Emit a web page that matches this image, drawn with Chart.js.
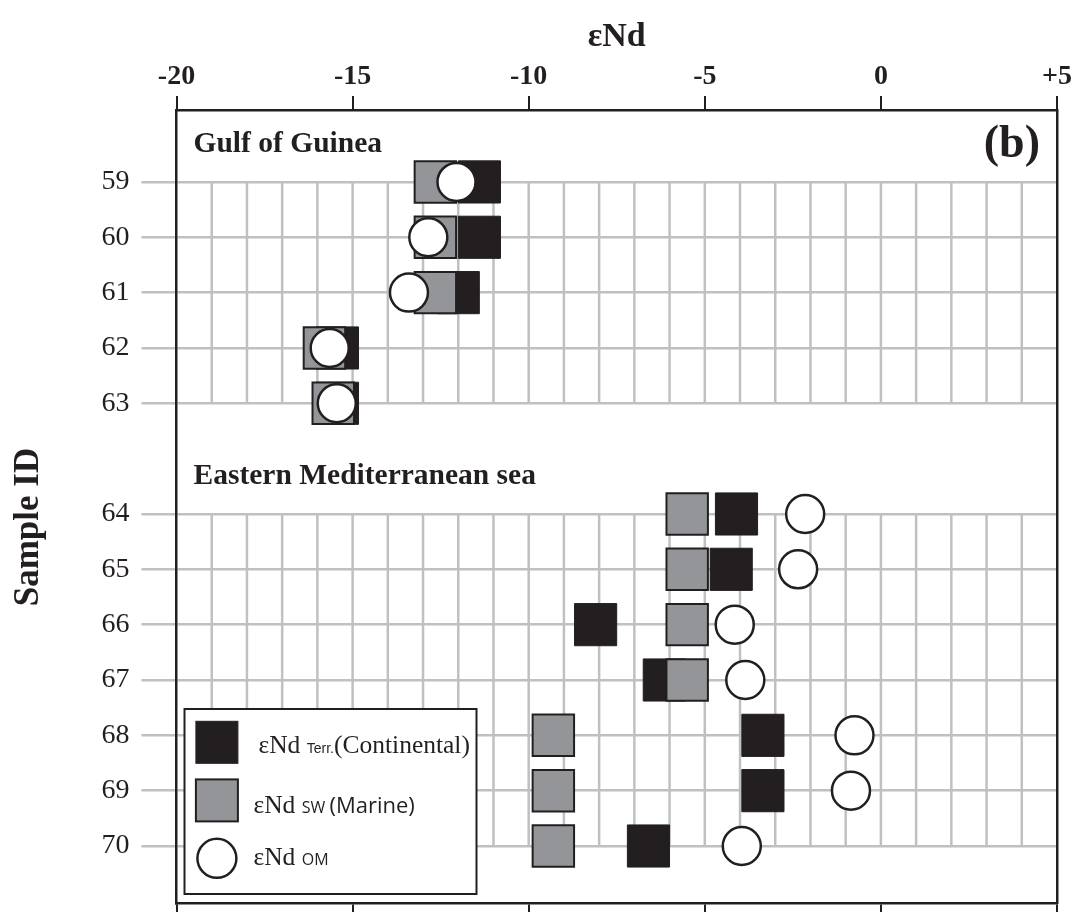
<!DOCTYPE html>
<html>
<head>
<meta charset="utf-8">
<title>εNd by sample</title>
<script src="https://cdn.jsdelivr.net/npm/chart.js@4.4.1/dist/chart.umd.min.js"></script>
<style>
  html, body { margin: 0; padding: 0; background: #ffffff; }
  #wrap { width: 1080px; height: 912px; position: relative; }
</style>
</head>
<body>
<div id="wrap"><canvas id="chart"></canvas></div>
<script>
// Samples, split into the two sampling regions
const gulfIds = ['59', '60', '61', '62', '63'];
const medIds  = ['64', '65', '66', '67', '68', '69', '70'];
const sampleIds = gulfIds.concat(medIds);
const groupTitles = ['Gulf of Guinea', 'Eastern Mediterranean sea'];

// εNd values per sample (same order as sampleIds)
const eNdTerr = [-11.4, -11.4, -12.0, -15.43, -15.43, -4.1, -4.25, -8.1, -6.15, -3.35, -3.35, -6.6];
const eNdSW   = [-12.65, -12.65, -12.65, -15.8, -15.55, -5.5, -5.5, -5.5, -5.5, -9.3, -9.3, -9.3];
const eNdOM   = [-12.05, -12.85, -13.4, -15.65, -15.45, -2.15, -2.35, -4.15, -3.85, -0.75, -0.85, -3.95];

// Axis ticks
const xTickValues = [-20, -15, -10, -5, 0, 5];
const xTickLabels = ['-20', '-15', '-10', '-5', '0', '+5'];
const xTitle = 'εNd';
const yTitle = 'Sample ID';
const panelLabel = '(b)';

// Legend entries: text runs with their own fonts
const legendRows = [
  { marker: 'black',  runs: [['εNd ', 'serif'], ['Terr.', 'subNarrow'], ['(Continental)', 'serif']] },
  { marker: 'grey',   runs: [['εNd ', 'serif'], ['SW ', 'sub'], ['(Marine)', 'sans']] },
  { marker: 'circle', runs: [['εNd ', 'serif'], ['OM', 'sub']] }
];

const INK = '#231f20';
const GREY_FILL = '#939598';
const GRID = '#bfc0c2';
const SERIF = '"Liberation Serif", "Times New Roman", serif';
const FONTS = {
  serif: '25.5px ' + SERIF,
  subNarrow: '14px "Liberation Sans Narrow", "Liberation Sans", sans-serif',
  sub: '16px "Open Sans", "Liberation Sans", sans-serif',
  sans: '22px "Open Sans", "Liberation Sans", sans-serif'
};

// Row index on the y scale: one empty row separates the two regions
const rowOf = i => (i < gulfIds.length ? i : i + 1);
const toPoints = vals => vals.map((v, i) => ({ x: v, y: rowOf(i) }));
const xTicksFrom = scale => { scale.ticks = xTickValues.map(v => ({ value: v })); };
// fixed axis sizes, without extra room for overhanging labels
const fixSize = (w, h) => s => {
  if (w !== null) s.width = w;
  if (h !== null) s.height = h;
  s.paddingTop = 0; s.paddingBottom = 0; s.paddingLeft = 0; s.paddingRight = 0;
};

const panelDecor = {
  id: 'panelDecor',
  beforeDatasetsDraw(chart) {
    // light vertical grid, one unit apart, spanning each region's rows only
    const { ctx } = chart;
    const xs = chart.scales.x, ys = chart.scales.y;
    const groups = [[0, gulfIds.length - 1], [gulfIds.length, sampleIds.length - 1]];
    ctx.save();
    ctx.strokeStyle = GRID;
    ctx.lineWidth = 2.5;
    for (const [a, b] of groups) {
      const y1 = ys.getPixelForValue(rowOf(a));
      const y2 = ys.getPixelForValue(rowOf(b));
      for (let v = xs.min + 1; v < xs.max; v++) {
        const px = xs.getPixelForValue(v);
        ctx.beginPath();
        ctx.moveTo(px, y1);
        ctx.lineTo(px, y2);
        ctx.stroke();
      }
    }
    ctx.restore();
  },
  afterDatasetsDraw(chart) {
    const { ctx, chartArea } = chart;
    const ys = chart.scales.y;
    ctx.save();
    ctx.fillStyle = INK;
    ctx.textBaseline = 'alphabetic';

    // region titles
    ctx.font = 'bold 29.5px ' + SERIF;
    ctx.textAlign = 'left';
    const firstRows = [0, gulfIds.length];
    groupTitles.forEach((t, k) => {
      ctx.fillText(t, chartArea.left + 17, ys.getPixelForValue(rowOf(firstRows[k])) - 29.5);
    });

    // panel letter
    ctx.font = 'bold 46px ' + SERIF;
    ctx.textAlign = 'right';
    ctx.fillText(panelLabel, chartArea.right - 17, chartArea.top + 47);

    // y axis title
    ctx.save();
    ctx.translate(29, 527);
    ctx.rotate(-Math.PI / 2);
    ctx.font = 'bold 35px ' + SERIF;
    ctx.textAlign = 'center';
    ctx.textBaseline = 'middle';
    ctx.fillText(yTitle, 0, 0);
    ctx.restore();

    // legend box
    const bx = chartArea.left + 8, bw = 292, bh = 185;
    const by = chartArea.bottom - 9 - bh;
    ctx.fillStyle = '#ffffff';
    ctx.fillRect(bx, by, bw, bh);
    ctx.strokeStyle = INK;
    ctx.lineWidth = 2;
    ctx.strokeRect(bx, by, bw, bh);

    const rowCenters = [33.3, 91.4, 149.3];
    const baselines = [43.7, 103.7, 156];
    const textX = [74, 69, 69];
    legendRows.forEach((row, k) => {
      const cx = bx + 32.4, cy = by + rowCenters[k];
      if (row.marker === 'circle') {
        ctx.beginPath();
        ctx.arc(cx, cy, 19.5, 0, Math.PI * 2);
        ctx.fillStyle = '#ffffff';
        ctx.fill();
        ctx.lineWidth = 2.5;
        ctx.strokeStyle = INK;
        ctx.stroke();
      } else {
        const s = 42;
        ctx.fillStyle = row.marker === 'black' ? INK : GREY_FILL;
        ctx.fillRect(cx - s / 2, cy - s / 2, s, s);
        ctx.lineWidth = row.marker === 'black' ? 1 : 2;
        ctx.strokeStyle = INK;
        ctx.strokeRect(cx - s / 2, cy - s / 2, s, s);
      }
      let tx = bx + textX[k];
      ctx.fillStyle = INK;
      ctx.textAlign = 'left';
      for (const [txt, f] of row.runs) {
        ctx.font = FONTS[f];
        ctx.fillText(txt, tx, by + baselines[k]);
        tx += ctx.measureText(txt).width;
      }
    });
    ctx.restore();
  }
};

new Chart(document.getElementById('chart'), {
  type: 'scatter',
  data: {
    datasets: [
      { label: 'εNd OM', data: toPoints(eNdOM), order: 0, pointStyle: 'circle',
        pointRadius: 19, backgroundColor: '#ffffff', borderColor: INK, borderWidth: 2.5 },
      { label: 'εNd SW (Marine)', data: toPoints(eNdSW), order: 1, pointStyle: 'rect',
        pointRadius: 29.3, backgroundColor: GREY_FILL, borderColor: INK, borderWidth: 2 },
      { label: 'εNd Terr. (Continental)', data: toPoints(eNdTerr), order: 2, pointStyle: 'rect',
        pointRadius: 29.8, backgroundColor: INK, borderColor: INK, borderWidth: 1 }
    ]
  },
  options: {
    responsive: true,
    maintainAspectRatio: false,
    animation: false,
    events: [],
    layout: { autoPadding: false, padding: { left: 0, right: 23, top: 0, bottom: 0 } },
    plugins: { legend: { display: false }, tooltip: { enabled: false } },
    scales: {
      x: {
        type: 'linear', position: 'top', min: -20, max: 5,
        afterBuildTicks: xTicksFrom,
        afterFit: fixSize(null, 110),
        ticks: {
          autoSkip: false, maxRotation: 0, padding: 2, color: INK,
          font: { family: SERIF, size: 28, weight: 'bold' },
          callback: v => xTickLabels[xTickValues.indexOf(v)]
        },
        grid: { drawOnChartArea: false, drawTicks: true, tickLength: 14, color: INK, lineWidth: 2 },
        border: { display: true, color: INK, width: 2.5 },
        title: {
          display: true, text: xTitle, color: INK,
          font: { family: SERIF, size: 34, weight: 'bold' },
          padding: { top: 17, bottom: 0 }
        }
      },
      xB: {
        type: 'linear', position: 'bottom', min: -20, max: 5,
        afterBuildTicks: xTicksFrom,
        afterFit: fixSize(null, 9),
        ticks: { autoSkip: false, maxRotation: 0, callback: () => '' },
        grid: { drawOnChartArea: false, drawTicks: true, tickLength: 14, color: INK, lineWidth: 2 },
        border: { display: true, color: INK, width: 2.5 }
      },
      y: {
        type: 'linear', position: 'left', reverse: true, min: -1.3, max: 13.03,
        afterBuildTicks: s => { s.ticks = sampleIds.map((id, i) => ({ value: rowOf(i) })); },
        afterFit: fixSize(176.5, null),
        ticks: {
          autoSkip: false, padding: 12, color: INK,
          font: { family: SERIF, size: 28 },
          callback: (v, i) => sampleIds[i]
        },
        grid: { color: GRID, lineWidth: 2.5, drawTicks: true, tickLength: 35 },
        border: { display: true, color: INK, width: 2.5 }
      },
      yR: {
        type: 'linear', position: 'right', reverse: true, min: -1.3, max: 13.03,
        afterFit: fixSize(0, null),
        ticks: { display: false },
        grid: { display: false, drawTicks: false },
        border: { display: true, color: INK, width: 2.5 }
      }
    }
  },
  plugins: [panelDecor]
});
</script>
</body>
</html>
